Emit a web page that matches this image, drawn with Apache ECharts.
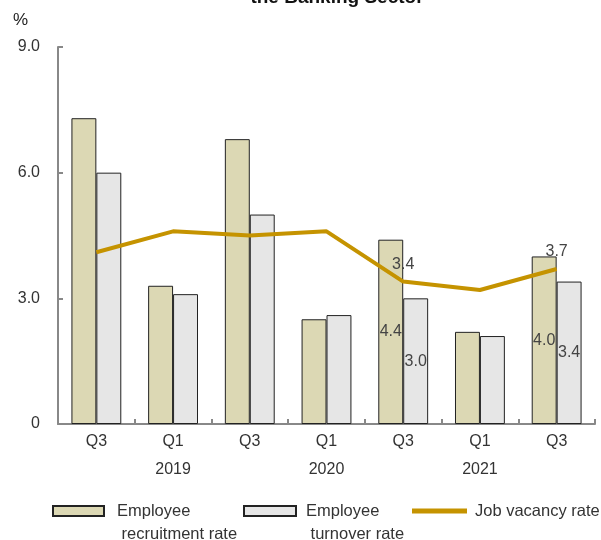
<!DOCTYPE html>
<html><head><meta charset="utf-8">
<script src="https://cdn.jsdelivr.net/npm/echarts@6/dist/echarts.min.js"></script>
<style>html,body{margin:0;padding:0;background:#fff;}#c{width:601px;height:540px;}</style>
</head><body><div id="c"></div>
<script>
var categories = ['Q3', 'Q1\n2019', 'Q3', 'Q1\n2020', 'Q3', 'Q1\n2021', 'Q3'];
var recruitment = [7.3, 3.3, 6.8, 2.5, 4.4, 2.2, 4.0];
var turnover = [6.0, 3.1, 5.0, 2.6, 3.0, 2.1, 3.4];
var vacancy = [4.1, 4.6, 4.5, 4.6, 3.4, 3.2, 3.7];
var labelledIdx = [4, 6];

var FONT = '"Liberation Sans", Arial, sans-serif';
var chart = echarts.init(document.getElementById('c'));
function lbl(p) { return labelledIdx.indexOf(p.dataIndex) >= 0 ? Number(p.value).toFixed(1) : ''; }
var LH = 23;
var LEG_Y = 511;
chart.setOption({
  animation: false,
  graphic: [
    { type: 'text', left: 13, top: 12, style: { text: '%', font: '17px ' + FONT, fill: '#222' } },
    { type: 'text', x: 337, y: 7, style: { text: 'the Banking Sector', font: 'bold 19px ' + FONT, fill: '#111', textAlign: 'center', textVerticalAlign: 'bottom' } }
  ],
  grid: { left: 58, right: 6, top: 47, bottom: 116, containLabel: false },
  legend: [
    { data: [{ name: 'Employee recruitment rate', icon: 'rect' }], left: 52, top: LEG_Y - 1.5 * LH, padding: 0, itemWidth: 51, itemHeight: 10, itemGap: 0,
      formatter: function () { return '\nEmployee\n recruitment rate'; },
      textStyle: { fontFamily: FONT, fontSize: 16.5, color: '#333', lineHeight: LH, padding: [0, 0, 0, 8] } },
    { data: [{ name: 'Employee turnover rate', icon: 'rect' }], left: 243, top: LEG_Y - 1.5 * LH, padding: 0, itemWidth: 52, itemHeight: 10, itemGap: 0,
      formatter: function () { return '\nEmployee\n turnover rate'; },
      textStyle: { fontFamily: FONT, fontSize: 16.5, color: '#333', lineHeight: LH, padding: [0, 0, 0, 5] } },
    { data: [{ name: 'Job vacancy rate', icon: 'rect' }], left: 412, top: LEG_Y - 0.5 * LH, padding: 0, itemWidth: 55, itemHeight: 5, itemGap: 0,
      textStyle: { fontFamily: FONT, fontSize: 16.5, color: '#333', lineHeight: LH, padding: [0, 0, 0, 3] } }
  ],
  xAxis: {
    type: 'category', data: categories, boundaryGap: true,
    axisLine: { lineStyle: { color: '#888', width: 2 } },
    axisTick: { show: true, inside: true, length: 5, alignWithLabel: false, lineStyle: { color: '#888', width: 2 } },
    axisLabel: { interval: 0, fontFamily: FONT, fontSize: 16, color: '#333', lineHeight: 28, margin: 4 }
  },
  yAxis: {
    type: 'value', min: 0, max: 9, interval: 3,
    axisLine: { show: true, lineStyle: { color: '#888', width: 2 } },
    axisTick: { show: true, inside: true, length: 5, lineStyle: { color: '#888', width: 2 } },
    splitLine: { show: false },
    axisLabel: { fontFamily: FONT, fontSize: 16, color: '#333', margin: 18,
      formatter: function (v) { return v === 0 ? '0' : v.toFixed(1); } }
  },
  series: [
    { name: 'Employee recruitment rate', type: 'bar', data: recruitment, barGap: '0%', barCategoryGap: '35%',
      itemStyle: { color: '#DCD8B4', borderColor: '#222', borderWidth: 1 },
      label: { show: true, position: 'inside', formatter: lbl, fontFamily: FONT, fontSize: 16, color: '#444' } },
    { name: 'Employee turnover rate', type: 'bar', data: turnover,
      itemStyle: { color: '#E6E6E6', borderColor: '#222', borderWidth: 1 },
      label: { show: true, position: 'inside', formatter: lbl, fontFamily: FONT, fontSize: 16, color: '#444' } },
    { name: 'Job vacancy rate', type: 'line', data: vacancy, symbol: 'circle', symbolSize: 0.1, showSymbol: true,
      lineStyle: { color: '#C59300', width: 4 }, itemStyle: { color: '#C59300' },
      label: { show: true, position: 'top', distance: 9, formatter: lbl, fontFamily: FONT, fontSize: 16, color: '#444' } }
  ]
});
</script></body></html>
